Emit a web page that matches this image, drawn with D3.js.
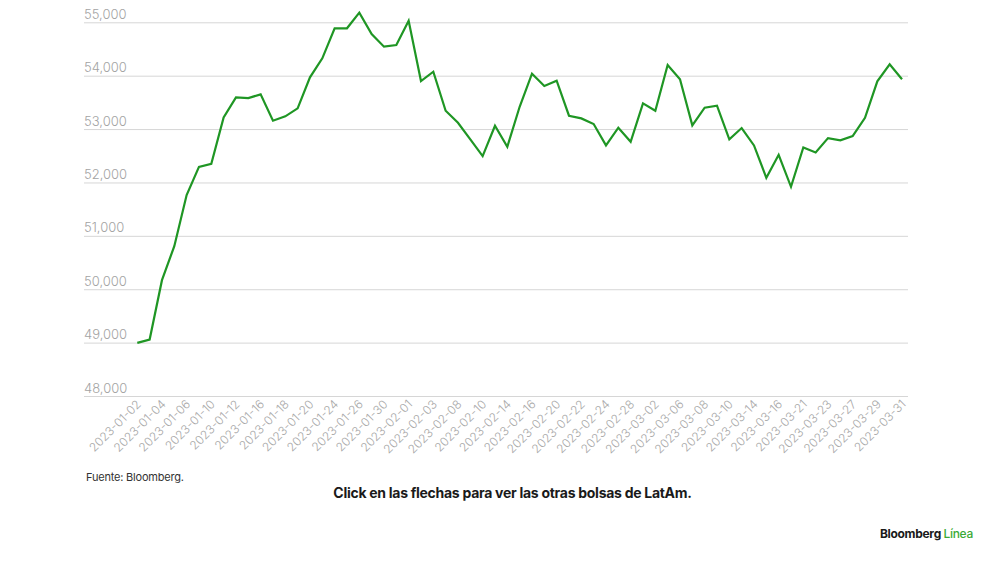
<!DOCTYPE html>
<html>
<head>
<meta charset="utf-8">
<script src="https://cdn.jsdelivr.net/npm/d3@7"></script>
<style>
  html, body { margin: 0; padding: 0; background: #fff; }
  svg { display: block; font-family: Inter, "Liberation Sans", Arial, sans-serif; }
</style>
</head>
<body>
<svg id="chart" width="1000" height="562"></svg>
<script>
const dates = [
  "2023-01-02","2023-01-03","2023-01-04","2023-01-05","2023-01-06","2023-01-09","2023-01-10","2023-01-11","2023-01-12","2023-01-13",
  "2023-01-16","2023-01-17","2023-01-18","2023-01-19","2023-01-20","2023-01-23","2023-01-24","2023-01-25","2023-01-26","2023-01-27",
  "2023-01-30","2023-01-31","2023-02-01","2023-02-02","2023-02-03","2023-02-07","2023-02-08","2023-02-09","2023-02-10","2023-02-13",
  "2023-02-14","2023-02-15","2023-02-16","2023-02-17","2023-02-20","2023-02-21","2023-02-22","2023-02-23","2023-02-24","2023-02-27",
  "2023-02-28","2023-03-01","2023-03-02","2023-03-03","2023-03-06","2023-03-07","2023-03-08","2023-03-09","2023-03-10","2023-03-13",
  "2023-03-14","2023-03-15","2023-03-16","2023-03-17","2023-03-21","2023-03-22","2023-03-23","2023-03-24","2023-03-27","2023-03-28",
  "2023-03-29","2023-03-30","2023-03-31"
];
const values = [
  48994,49058,50170,50807,51763,52293,52350,53219,53594,53581,
  53650,53156,53238,53388,53970,54325,54888,54888,55180,54781,
  54543,54575,55030,53900,54074,53343,53118,52807,52494,53062,
  52668,53418,54037,53806,53906,53250,53200,53094,52694,53025,
  52762,53482,53343,54200,53932,53069,53400,53437,52807,53019,
  52694,52087,52518,51919,52657,52563,52831,52788,52869,53212,
  53894,54213,53932
];
const yTicks = [48000,49000,50000,51000,52000,53000,54000,55000];
const xTickLabels = dates.filter((d, i) => i % 2 === 0);

const svg = d3.select("#chart");
const gridLeft = 84, gridRight = 908;

const x = d3.scalePoint().domain(dates).range([137.3, 902]);
const y = d3.scaleLinear().domain([48000, 55000]).range([396, 22.3]);

// gridlines + y labels
const yAxis = d3.axisLeft(y).tickValues(yTicks).tickSize(0).tickFormat(d3.format(","));
const gy = svg.append("g").attr("transform", `translate(${gridLeft},0)`).call(yAxis);
gy.select(".domain").remove();
gy.selectAll(".tick line")
  .attr("x1", 0).attr("x2", gridRight - gridLeft)
  .attr("stroke", "#d6d6d6").attr("stroke-width", 1);
gy.selectAll(".tick text")
  .attr("x", 0).attr("dy", -4).attr("y", 0)
  .attr("text-anchor", "start")
  .attr("fill", "#a3a3a3")
  .style("font-size", "13px")
  .style("font-weight", "300")
  .style("font-family", "Inter, 'Liberation Sans', Arial, sans-serif");

// x axis labels
const xAxis = d3.axisBottom(x).tickValues(xTickLabels).tickSize(0);
const gx = svg.append("g").attr("transform", "translate(0,396)").call(xAxis);
gx.select(".domain").remove();
gx.selectAll(".tick text")
  .attr("text-anchor", "end")
  .attr("dy", 0).attr("y", 0)
  .attr("transform", "translate(4,9) rotate(-45)")
  .attr("fill", "#a8a8a8")
  .style("font-size", "12px")
  .style("font-weight", "300")
  .style("font-family", "Inter, 'Liberation Sans', Arial, sans-serif");

// line
const line = d3.line().x((d, i) => x(dates[i])).y(d => y(d));
svg.append("path")
  .datum(values)
  .attr("d", line)
  .attr("fill", "none")
  .attr("stroke", "#1f9624")
  .attr("stroke-width", 2.2)
  .attr("stroke-linejoin", "miter");

// footer texts
svg.append("text").attr("x", 86).attr("y", 481)
  .attr("fill", "#333").style("font-size", "11px").style("letter-spacing", "-0.2px")
  .text("Fuente: Bloomberg.");

svg.append("text").attr("x", 512.5).attr("y", 498)
  .attr("text-anchor", "middle")
  .attr("fill", "#1a1a1a").style("font-size", "14px").style("font-weight", "700")
  .style("letter-spacing", "-0.28px")
  .text("Click en las flechas para ver las otras bolsas de LatAm.");

const brand = svg.append("text").attr("x", 973).attr("y", 538)
  .attr("text-anchor", "end")
  .style("font-size", "12px").style("font-weight", "700").style("letter-spacing", "-0.3px");
brand.append("tspan").attr("fill", "#1a1a1a").text("Bloomberg ");
brand.append("tspan").attr("fill", "#3aaa35").style("font-weight", "500").text("Línea");
</script>
</body>
</html>
